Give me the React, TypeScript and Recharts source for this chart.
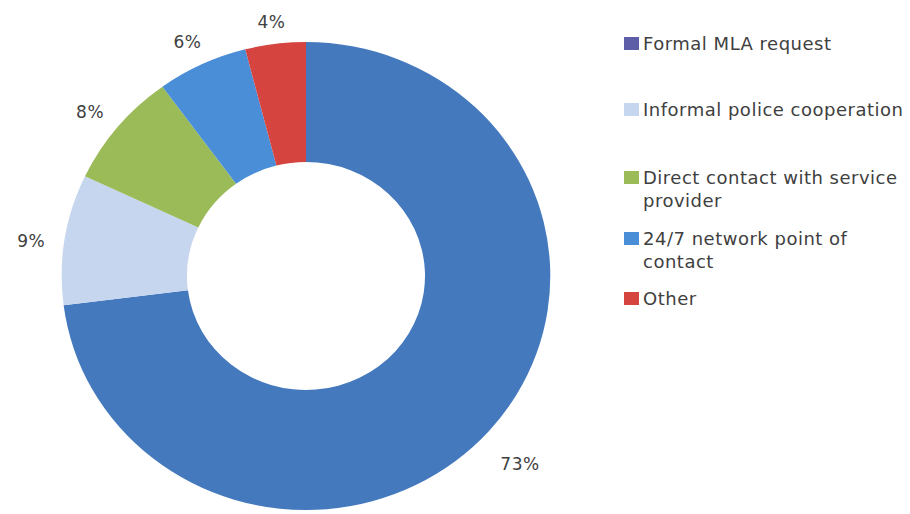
import React from 'react';
import { PieChart, Pie, Cell, Legend } from 'recharts';

const categories = [
  'Formal MLA request',
  'Informal police cooperation',
  'Direct contact with service provider',
  '24/7 network point of contact',
  'Other',
];
const values = [73, 9, 8, 6, 4];
const sliceColors = ['#4479BE', '#C6D6EE', '#9BBB59', '#4A8ED8', '#D5443F'];
const legendColors = ['#5D5EA7', '#C6D6EE', '#9BBB59', '#4A8ED8', '#D5443F'];

const data = categories.map((name, i) => ({ name, value: values[i] }));

const CX = 306;
const CY = 276;
const OUTER = 234;
const INNER = 114;
const SX = 1.044; // horizontal stretch of the original picture
const RAD = Math.PI / 180;
const LEGEND_GAPS = [0, 43, 45, 15, 14];

const renderLabel = (props: any) => {
  const { midAngle, value } = props;
  const text = `${value}%`;
  const ux = Math.cos(-midAngle * RAD);
  const uy = Math.sin(-midAngle * RAD);
  const w = text.length * 13;
  const r = OUTER + 18 + Math.abs(ux) * (w / 2) + Math.abs(uy) * 10;
  const x = CX + ux * r * SX;
  const y = CY + uy * r + 7;
  return (
    <text
      x={x}
      y={y}
      textAnchor="middle"
      dominantBaseline="central"
      fill="#404040"
      fontSize={17}
      letterSpacing={0.5}
      fontFamily="DejaVu Sans"
    >
      {text}
    </text>
  );
};

const renderLegend = () => (
  <div style={{ fontFamily: 'DejaVu Sans', fontSize: 18, letterSpacing: 0.5, color: '#404040' }}>
    {categories.map((c, i) => (
      <div key={c} style={{ display: 'flex', alignItems: 'flex-start', marginTop: LEGEND_GAPS[i] }}>
        <div
          style={{
            width: 15,
            height: 13,
            background: legendColors[i],
            marginTop: 5,
            marginRight: 4,
            flex: '0 0 auto',
          }}
        />
        <div style={{ width: 264, lineHeight: '23px' }}>{c}</div>
      </div>
    ))}
  </div>
);

export default function App() {
  return (
    <div
      style={{
        position: 'absolute',
        left: 0,
        top: 0,
        width: 910,
        height: 514,
        overflow: 'hidden',
        background: '#fff',
      }}
    >
      <style>{`.recharts-pie-sector{transform-origin:${CX}px ${CY}px;transform:scaleX(${SX});}`}</style>
      <PieChart width={910} height={514} margin={{ top: 0, right: 0, bottom: 0, left: 0 }}>
        <Pie
          data={data}
          dataKey="value"
          nameKey="name"
          cx={CX}
          cy={CY}
          innerRadius={INNER}
          outerRadius={OUTER}
          startAngle={90}
          endAngle={-270}
          stroke="none"
          label={renderLabel}
          labelLine={false}
          isAnimationActive={false}
        >
          {data.map((d, i) => (
            <Cell key={d.name} fill={sliceColors[i]} />
          ))}
        </Pie>
        <Legend
          content={renderLegend}
          wrapperStyle={{ position: 'absolute', left: 624, top: 32, width: 286 }}
        />
      </PieChart>
    </div>
  );
}
